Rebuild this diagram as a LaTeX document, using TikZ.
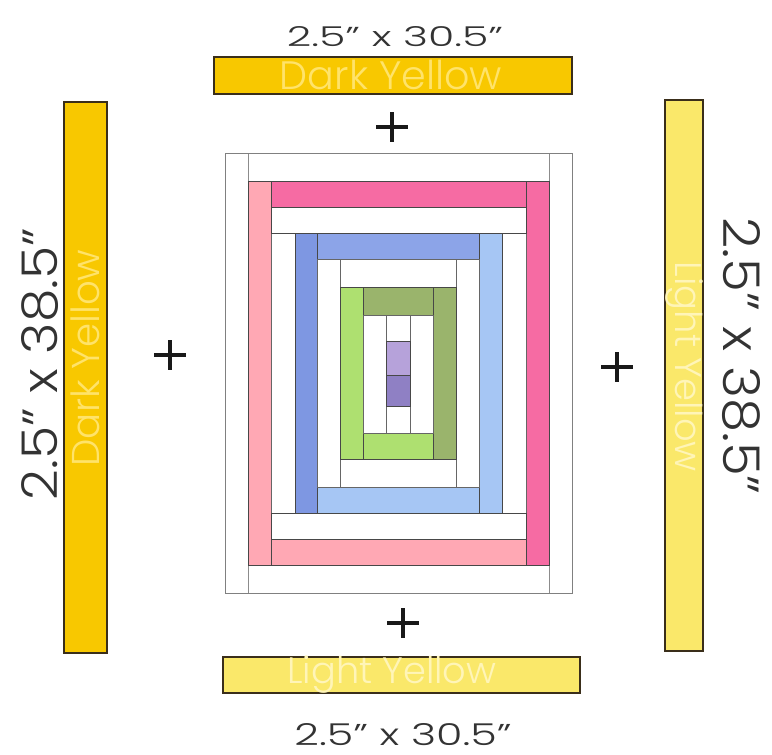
\documentclass[tikz,border=0pt]{standalone}
\usepackage{fontspec}
\setmainfont{Poppins}[UprightFont={* Light}]
\usepackage{graphicx}
\definecolor{dy}{HTML}{F8C800}
\definecolor{dytext}{HTML}{FFE36A}
\definecolor{ly}{HTML}{FAE86A}
\definecolor{lytext}{HTML}{FFF5B8}
\definecolor{hpink}{HTML}{F66BA3}
\definecolor{lpink}{HTML}{FFA8B4}
\definecolor{dblue}{HTML}{7E97E2}
\definecolor{mblue}{HTML}{8CA4E8}
\definecolor{lblue}{HTML}{A6C6F4}
\definecolor{lgreen}{HTML}{AEE070}
\definecolor{dgreen}{HTML}{9AB46C}
\definecolor{lav}{HTML}{B6A2DA}
\definecolor{purp}{HTML}{8F80C4}
\definecolor{edge}{HTML}{3A2E1A}
\tikzset{
  ystrip/.style={draw=edge, line width=1.3pt, inner sep=0pt},
  piece/.style={draw=black!72, line width=0.7pt},
  opiece/.style={draw=black!45, line width=0.8pt, fill=white},
  wpiece/.style={draw=black!60, line width=0.6pt, fill=white},
  plusnode/.style={minimum width=31pt, minimum height=29pt, inner sep=0pt},
  plusline/.style={line width=3.4pt, black!90},
  dimtext/.style={inner sep=0pt, text=black!80},
  nametext/.style={inner sep=0pt}
}
\begin{document}
\begin{tikzpicture}[x=1pt,y=-1pt]
\useasboundingbox (0,0) rectangle (772,755);
% yellow strips
\node[ystrip, fill=dy, minimum width=358pt, minimum height=37pt] (topbar) at (393,75.5) {};
\node[ystrip, fill=ly, minimum width=357pt, minimum height=36pt] (botbar) at (401.5,675) {};
\node[ystrip, fill=dy, minimum width=43pt, minimum height=551pt] (leftbar) at (85.5,377.5) {};
\node[ystrip, fill=ly, minimum width=38pt, minimum height=551pt] (rightbar) at (684,375.5) {};
% labels
\node[dimtext] (topdim) at (395,37) {\resizebox{216pt}{20pt}{2.5" x 30.5"}};
\node[dimtext] (botdim) at (403,735) {\resizebox{217pt}{22pt}{2.5" x 30.5"}};
\node[dimtext, rotate=90] (leftdim) at (40,364) {\resizebox{272pt}{36pt}{2.5" x 38.5"}};
\node[dimtext, rotate=-90] (rightdim) at (741,356) {\resizebox{277pt}{37pt}{2.5" x 38.5"}};
\node[nametext, text=dytext] (topname) at (391,75) {\resizebox{222pt}{!}{Dark Yellow}};
\node[nametext, text=lytext] (botname) at (392,675) {\resizebox{209pt}{!}{Light Yellow}};
\node[nametext, text=dytext, rotate=90] (leftname) at (85,358) {\resizebox{217pt}{!}{Dark Yellow}};
\node[nametext, text=lytext, rotate=-90] (rightname) at (684,367) {\resizebox{210pt}{!}{Light Yellow}};
% plus signs
\foreach \n/\px/\py in {plusT/392/127, plusL/170/355, plusR/617/367, plusB/403/623}{
  \node[plusnode] (\n) at (\px,\py) {};
  \draw[plusline] (\n.west) -- (\n.east) (\n.north) -- (\n.south);
}
% quilt block: outer white border
\draw[opiece] (225,153) rectangle (248,593);
\draw[opiece] (549,153) rectangle (572,593);
\draw[opiece] (248,153) rectangle (549,181);
\draw[opiece] (248,565) rectangle (549,593);
% pink round
\draw[piece, fill=lpink] (248,181) rectangle (271,565);
\draw[piece, fill=hpink] (526,181) rectangle (549,565);
\draw[piece, fill=hpink] (271,181) rectangle (526,207);
\draw[piece, fill=lpink] (271,539) rectangle (526,565);
% white round
\draw[wpiece] (271,233) rectangle (295,513);
\draw[wpiece] (502,233) rectangle (526,513);
\draw[piece, fill=white] (271,207) rectangle (526,233);
\draw[piece, fill=white] (271,513) rectangle (526,539);
% blue round
\draw[piece, fill=dblue] (295,233) rectangle (317,513);
\draw[piece, fill=lblue] (479,233) rectangle (502,513);
\draw[piece, fill=mblue] (317,233) rectangle (479,259);
\draw[piece, fill=lblue] (317,487) rectangle (479,513);
% white round
\draw[wpiece] (317,259) rectangle (340,487);
\draw[wpiece] (456,259) rectangle (479,487);
\draw[wpiece] (340,259) rectangle (456,287);
\draw[wpiece] (340,459) rectangle (456,487);
% green round
\draw[piece, fill=lgreen] (340,287) rectangle (363,459);
\draw[piece, fill=dgreen] (433,287) rectangle (456,459);
\draw[piece, fill=dgreen] (363,287) rectangle (433,315);
\draw[piece, fill=lgreen] (363,433) rectangle (433,459);
% white round
\draw[wpiece] (363,315) rectangle (386,433);
\draw[wpiece] (410,315) rectangle (433,433);
\draw[wpiece] (386,315) rectangle (410,341);
\draw[wpiece] (386,406) rectangle (410,433);
% centre
\draw[piece, fill=lav] (386,341) rectangle (410,375);
\draw[piece, fill=purp] (386,375) rectangle (410,406);
% outer frame
\draw[draw=black!50, line width=1pt] (225,153) rectangle (572,593);
\end{tikzpicture}
\end{document}
